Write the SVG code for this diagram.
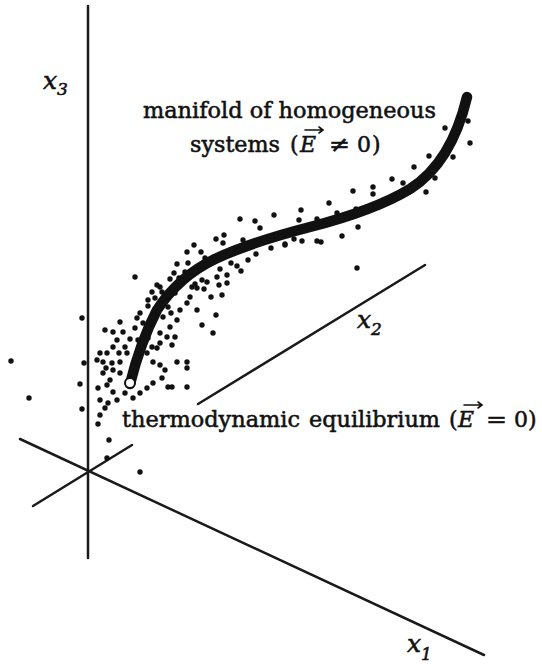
<svg xmlns="http://www.w3.org/2000/svg" width="542" height="664" viewBox="0 0 542 664">
<style>
.ax{stroke:#1a1a1a;stroke-width:2.5;fill:none;stroke-linecap:round}
text{font-family:'DejaVu Serif','Liberation Serif','Times New Roman',serif;font-size:22px;fill:#111;stroke:#111;stroke-width:0.55}
.it{font-style:italic}
.axl{font-size:25px}
.sub{font-size:17px}
.vec{stroke:#111;stroke-width:1.6;fill:none;stroke-linecap:round}
#dots circle{fill:#111}
</style>
<rect width="542" height="664" fill="#fff"/>
<g id="connectors">
<line class="ax" x1="88" y1="6" x2="88" y2="558"/>
<line class="ax" x1="20" y1="439" x2="484" y2="655"/>
<line class="ax" x1="33" y1="506" x2="132" y2="445"/>
<line class="ax" x1="198" y1="404" x2="425" y2="265"/>
</g>
<g id="dots">
<circle cx="468" cy="121" r="2.7"/><circle cx="445" cy="128" r="2.7"/><circle cx="470" cy="143" r="2.7"/><circle cx="453" cy="157" r="2.7"/><circle cx="429" cy="156" r="2.7"/><circle cx="414" cy="167" r="2.7"/><circle cx="435" cy="178" r="2.7"/><circle cx="426" cy="192" r="2.7"/><circle cx="392" cy="179" r="2.7"/><circle cx="403" cy="183" r="2.7"/><circle cx="373" cy="187" r="2.7"/><circle cx="373" cy="194" r="2.7"/><circle cx="353" cy="191" r="2.7"/><circle cx="329" cy="203" r="2.7"/><circle cx="356" cy="209" r="2.7"/><circle cx="337" cy="213" r="2.7"/><circle cx="301" cy="210" r="2.7"/><circle cx="299" cy="220" r="2.7"/><circle cx="317" cy="219" r="2.7"/><circle cx="358" cy="227" r="2.7"/><circle cx="342" cy="236" r="2.7"/><circle cx="294" cy="239" r="2.7"/><circle cx="302" cy="241" r="2.7"/><circle cx="317" cy="241" r="2.7"/><circle cx="321" cy="242" r="2.7"/><circle cx="285" cy="245" r="2.7"/><circle cx="357" cy="268" r="2.7"/>
<circle cx="240" cy="219" r="2.7"/><circle cx="274" cy="215" r="2.7"/><circle cx="255" cy="221" r="2.7"/><circle cx="260" cy="228" r="2.7"/><circle cx="285" cy="244" r="2.7"/><circle cx="271" cy="248" r="2.7"/><circle cx="224" cy="235" r="2.7"/><circle cx="216" cy="239" r="2.7"/><circle cx="223" cy="243" r="2.7"/><circle cx="194" cy="245" r="2.7"/><circle cx="187" cy="252" r="2.7"/><circle cx="201" cy="252" r="2.7"/><circle cx="205" cy="258" r="2.7"/><circle cx="248" cy="260" r="2.7"/><circle cx="256" cy="254" r="2.7"/><circle cx="231" cy="263" r="2.7"/><circle cx="237" cy="266" r="2.7"/><circle cx="241" cy="271" r="2.7"/><circle cx="177" cy="264" r="2.7"/><circle cx="188" cy="263" r="2.7"/><circle cx="174" cy="273" r="2.7"/><circle cx="185" cy="272" r="2.7"/><circle cx="220" cy="269" r="2.7"/><circle cx="227" cy="275" r="2.7"/><circle cx="170" cy="279" r="2.7"/><circle cx="179" cy="278" r="2.7"/><circle cx="202" cy="280" r="2.7"/><circle cx="217" cy="277" r="2.7"/><circle cx="219" cy="285" r="2.7"/><circle cx="227" cy="283" r="2.7"/><circle cx="157" cy="285" r="2.7"/><circle cx="162" cy="292" r="2.7"/><circle cx="173" cy="290" r="2.7"/><circle cx="152" cy="292" r="2.7"/><circle cx="192" cy="287" r="2.7"/><circle cx="195" cy="284" r="2.7"/><circle cx="204" cy="289" r="2.7"/><circle cx="211" cy="297" r="2.7"/><circle cx="222" cy="295" r="2.7"/><circle cx="190" cy="297" r="2.7"/><circle cx="243" cy="240" r="2.7"/>
<circle cx="216" cy="315" r="2.7"/><circle cx="213" cy="333" r="2.7"/><circle cx="202" cy="325" r="2.7"/><circle cx="197" cy="310" r="2.7"/><circle cx="187" cy="303" r="2.7"/><circle cx="148" cy="300" r="2.7"/><circle cx="155" cy="298" r="2.7"/><circle cx="148" cy="306" r="2.7"/><circle cx="140" cy="313" r="2.7"/><circle cx="137" cy="318" r="2.7"/><circle cx="143" cy="323" r="2.7"/><circle cx="135" cy="328" r="2.7"/><circle cx="150" cy="327" r="2.7"/><circle cx="120" cy="322" r="2.7"/><circle cx="123" cy="332" r="2.7"/><circle cx="113" cy="332" r="2.7"/><circle cx="105" cy="330" r="2.7"/><circle cx="130" cy="339" r="2.7"/><circle cx="138" cy="340" r="2.7"/><circle cx="117" cy="340" r="2.7"/><circle cx="125" cy="347" r="2.7"/><circle cx="113" cy="347" r="2.7"/><circle cx="100" cy="353" r="2.7"/><circle cx="107" cy="353" r="2.7"/><circle cx="119" cy="353" r="2.7"/><circle cx="127" cy="353" r="2.7"/><circle cx="97" cy="360" r="2.7"/><circle cx="103" cy="362" r="2.7"/><circle cx="112" cy="363" r="2.7"/><circle cx="120" cy="362" r="2.7"/><circle cx="106" cy="368" r="2.7"/><circle cx="113" cy="370" r="2.7"/><circle cx="120" cy="373" r="2.7"/><circle cx="103" cy="373" r="2.7"/><circle cx="110" cy="380" r="2.7"/><circle cx="98" cy="388" r="2.7"/><circle cx="107" cy="385" r="2.7"/><circle cx="113" cy="392" r="2.7"/><circle cx="100" cy="400" r="2.7"/><circle cx="117" cy="400" r="2.7"/><circle cx="125" cy="393" r="2.7"/><circle cx="133" cy="398" r="2.7"/><circle cx="140" cy="393" r="2.7"/><circle cx="147" cy="388" r="2.7"/><circle cx="153" cy="383" r="2.7"/><circle cx="162" cy="378" r="2.7"/><circle cx="168" cy="387" r="2.7"/><circle cx="172" cy="387" r="2.7"/><circle cx="187" cy="387" r="2.7"/><circle cx="165" cy="370" r="2.7"/><circle cx="160" cy="365" r="2.7"/><circle cx="153" cy="362" r="2.7"/><circle cx="147" cy="353" r="2.7"/><circle cx="152" cy="347" r="2.7"/><circle cx="160" cy="343" r="2.7"/><circle cx="167" cy="337" r="2.7"/><circle cx="172" cy="345" r="2.7"/><circle cx="177" cy="362" r="2.7"/><circle cx="187" cy="362" r="2.7"/><circle cx="187" cy="368" r="2.7"/><circle cx="175" cy="337" r="2.7"/><circle cx="170" cy="327" r="2.7"/><circle cx="160" cy="333" r="2.7"/><circle cx="177" cy="320" r="2.7"/><circle cx="171" cy="313" r="2.7"/><circle cx="180" cy="310" r="2.7"/><circle cx="163" cy="317" r="2.7"/><circle cx="157" cy="313" r="2.7"/><circle cx="168" cy="307" r="2.7"/><circle cx="162" cy="303" r="2.7"/><circle cx="160" cy="287" r="2.7"/><circle cx="175" cy="293" r="2.7"/><circle cx="197" cy="288" r="2.7"/><circle cx="190" cy="272" r="2.7"/><circle cx="202" cy="265" r="2.7"/><circle cx="207" cy="282" r="2.7"/><circle cx="180" cy="280" r="2.7"/><circle cx="157" cy="348" r="2.7"/><circle cx="148" cy="338" r="2.7"/><circle cx="145" cy="332" r="2.7"/><circle cx="135" cy="277" r="2.7"/>
<circle cx="82" cy="318" r="2.7"/><circle cx="11" cy="361" r="2.7"/><circle cx="84" cy="363" r="2.7"/><circle cx="80" cy="384" r="2.7"/><circle cx="29" cy="398" r="2.7"/><circle cx="82" cy="409" r="2.7"/><circle cx="98" cy="424" r="2.7"/><circle cx="100" cy="415" r="2.7"/><circle cx="105" cy="408" r="2.7"/><circle cx="108" cy="403" r="2.7"/><circle cx="109" cy="440" r="2.7"/><circle cx="107" cy="458" r="2.7"/><circle cx="140" cy="472" r="2.7"/>
</g>
<g id="manifold">
<path d="M130,384 C136,360 145,333 157,310 C170,290 188,272 215,259 C245,245 275,236 310,227 C345,218 380,207 410,189 C440,170 458,135 467,97" fill="none" stroke="#111" stroke-width="10.5" stroke-linecap="round"/>
</g>
<g id="equilibrium-point">
<circle cx="130" cy="383" r="5" fill="#fff" stroke="#111" stroke-width="2"/>
</g>
<g id="label-manifold">
<text x="143" y="118" textLength="293" lengthAdjust="spacingAndGlyphs">manifold of homogeneous</text>
<text y="152"><tspan x="190" textLength="90" lengthAdjust="spacingAndGlyphs">systems</tspan><tspan x="290">(</tspan><tspan x="300" class="it">E</tspan><tspan x="329" textLength="21" lengthAdjust="spacingAndGlyphs">≠</tspan><tspan x="357">0</tspan><tspan x="372">)</tspan></text>
<path class="vec" d="M305,130 H323 M319,127 L323,130 L319,133"/>
</g>
<g id="label-equilibrium">
<text y="427"><tspan x="122" textLength="178" lengthAdjust="spacingAndGlyphs">thermodynamic</tspan><tspan x="309" textLength="131" lengthAdjust="spacingAndGlyphs">equilibrium</tspan><tspan x="449">(</tspan><tspan x="458" class="it">E</tspan><tspan x="486" textLength="21" lengthAdjust="spacingAndGlyphs">=</tspan><tspan x="514">0</tspan><tspan x="528">)</tspan></text>
<path class="vec" d="M464,405 H482 M478,402 L482,405 L478,408"/>
</g>
<g id="axis-labels">
<text class="it axl" x="43" y="89">x<tspan class="sub" dy="6">3</tspan></text>
<text class="it axl" x="357" y="328">x<tspan class="sub" dy="7">2</tspan></text>
<text class="it axl" x="407" y="652">x<tspan class="sub" dy="8">1</tspan></text>
</g>
</svg>
